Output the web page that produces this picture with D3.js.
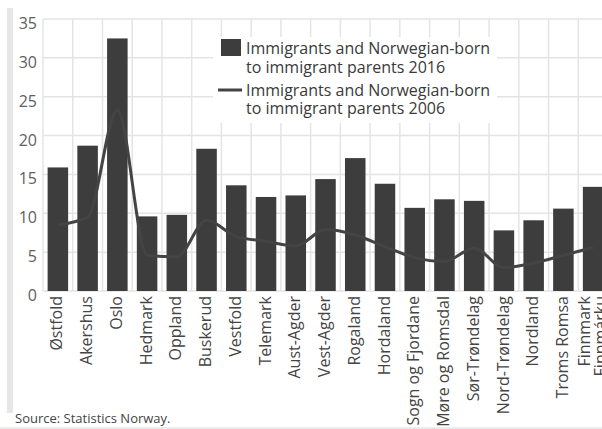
<!DOCTYPE html>
<html>
<head>
<meta charset="utf-8">
<script src="https://cdn.jsdelivr.net/npm/d3@7/dist/d3.min.js"></script>
<style>
  html, body { margin: 0; padding: 0; background: #fff; }
  svg { display: block; font-family: "Open Sans", sans-serif; }
</style>
</head>
<body>
<svg id="chart" width="602" height="429"></svg>
<script>
const categories = ["Østfold","Akershus","Oslo","Hedmark","Oppland","Buskerud","Vestfold","Telemark","Aust-Agder","Vest-Agder","Rogaland","Hordaland","Sogn og Fjordane","Møre og Romsdal","Sør-Trøndelag","Nord-Trøndelag","Nordland","Troms Romsa","Finnmark\nFinnmárku"];
const values2016 = [15.9, 18.7, 32.5, 9.6, 9.8, 18.3, 13.6, 12.1, 12.3, 14.4, 17.1, 13.8, 10.7, 11.8, 11.6, 7.8, 9.1, 10.6, 13.4];
const values2006 = [8.5, 9.5, 23.3, 4.6, 4.4, 9.1, 7.0, 6.4, 5.8, 7.9, 7.2, 5.7, 4.3, 3.8, 5.5, 3.0, 3.6, 4.6, 5.6];
const yTicks = [0, 5, 10, 15, 20, 25, 30, 35];
const legendLabels = [["Immigrants and Norwegian-born", "to immigrant parents 2016"], ["Immigrants and Norwegian-born", "to immigrant parents 2006"]];
const sourceText = "Source: Statistics Norway.";

(function () {
const svg = d3.select("#chart");
const pL = 43, pR = 608, pT = 19, pB = 291;

// frame decorations
svg.append("rect").attr("x", 7).attr("y", 8).attr("width", 6).attr("height", 405).attr("fill", "#e6e6e6");
svg.append("rect").attr("x", 0).attr("y", 427).attr("width", 602).attr("height", 2).attr("fill", "#ececec");

const x = d3.scaleBand().domain(categories).range([pL, pR]).paddingInner(0.31).paddingOuter(0.155);
const y = d3.scaleLinear().domain([0, 35]).range([pB, pT]);

const grid = svg.append("g");
grid.selectAll("line.h").data(yTicks).join("line")
  .attr("x1", pL).attr("x2", pR)
  .attr("y1", d => y(d)).attr("y2", d => y(d))
  .attr("stroke", "#e4e4e4").attr("stroke-width", 1.5);
const step = x.step();
const bounds = d3.range(categories.length + 1).map(i => pL + i * step);
grid.selectAll("line.v").data(bounds).join("line")
  .attr("x1", d => d).attr("x2", d => d)
  .attr("y1", pT).attr("y2", pB)
  .attr("stroke", "#e4e4e4").attr("stroke-width", 1.5);

// bars
svg.append("g").selectAll("rect").data(categories).join("rect")
  .attr("x", d => x(d))
  .attr("width", x.bandwidth())
  .attr("y", (d, i) => y(values2016[i]))
  .attr("height", (d, i) => y(0) - y(values2016[i]))
  .attr("fill", "#3d3d3d");

// line
const line = d3.line()
  .x((d, i) => x(categories[i]) + x.bandwidth() / 2)
  .y(d => y(d))
  .curve(d3.curveMonotoneX);
svg.append("path").datum(values2006)
  .attr("d", line)
  .attr("fill", "none")
  .attr("stroke", "#444")
  .attr("stroke-width", 3);

// y axis labels
svg.append("g").selectAll("text").data(yTicks).join("text")
  .attr("x", 37).attr("y", d => y(d) + 4)
  .attr("text-anchor", "end")
  .attr("dominant-baseline", "central")
  .attr("font-size", 16)
  .attr("fill", "#606060")
  .text(d => d);

// x axis labels (multi-line supported)
const xl = svg.append("g").selectAll("text").data(categories).join("text")
  .attr("transform", d => `translate(${x(d) + x.bandwidth() / 2},296) rotate(-90)`)
  .attr("text-anchor", "end")
  .attr("font-size", 16)
  .attr("fill", "#444");
xl.each(function (d) {
  const parts = d.split("\n");
  const sel = d3.select(this);
  const lh = 16;
  parts.forEach((p, k) => {
    sel.append("tspan").attr("x", 0)
      .attr("y", (k - (parts.length - 1) / 2) * lh - 1)
      .attr("dy", "0.35em")
      .text(p);
  });
});

// legend
const lg = svg.append("g");
lg.append("rect").attr("x", 213).attr("y", 37).attr("width", 284).attr("height", 86).attr("fill", "#fff");
lg.append("rect").attr("x", 221).attr("y", 39).attr("width", 20).attr("height", 17).attr("fill", "#3d3d3d");
lg.append("line").attr("x1", 218).attr("x2", 242).attr("y1", 90).attr("y2", 90).attr("stroke", "#444").attr("stroke-width", 3);
const baselines = [[54, 73], [96, 114]];
legendLabels.forEach((lines, i) => {
  lines.forEach((t, j) => {
    lg.append("text").attr("x", 246).attr("y", baselines[i][j])
      .attr("font-size", 16).attr("fill", "#3a3a3a").text(t);
  });
});

// source
svg.append("text").attr("x", 15).attr("y", 423)
  .attr("font-size", 13).attr("fill", "#444").text(sourceText);
})();
</script>
</body>
</html>
